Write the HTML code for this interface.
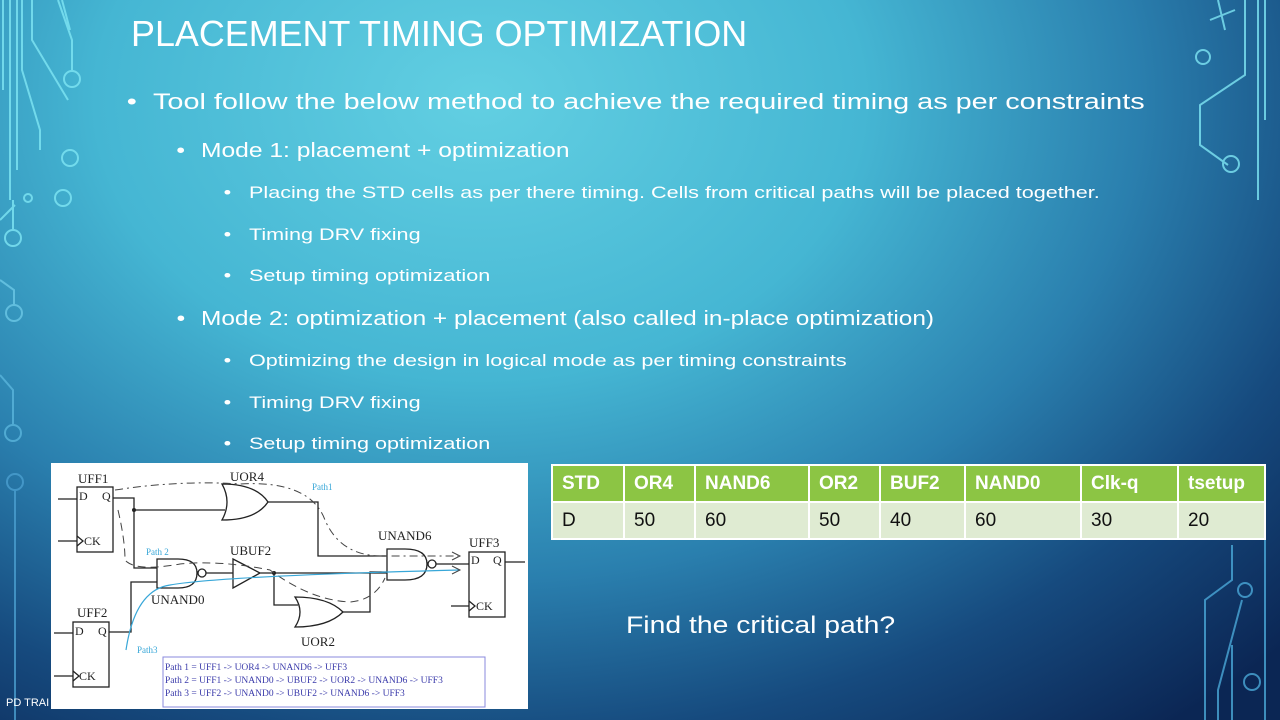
<!DOCTYPE html>
<html><head><meta charset="utf-8"><style>
body{margin:0;width:1280px;height:720px;overflow:hidden;position:relative;font-family:"Liberation Sans",sans-serif;
background:radial-gradient(ellipse 1100px 800px at 480px 100px,#62cfe2 0%,#45b6d3 35%,#2a7fae 60%,#164a7e 80%,#0b2654 100%);}
.t{position:absolute;color:#fff;white-space:nowrap;transform-origin:0 0}
.b:before{content:"•";position:absolute;left:-20px}
table{position:absolute;left:551px;top:464px;border-collapse:collapse;font-size:19px;table-layout:fixed;width:713px}
td{border:2px solid #fff;padding:0 0 0 9px;height:35px;color:#111;overflow:hidden;white-space:nowrap}
tr.h td{background:#8cc544;color:#fff;font-weight:bold}
tr.d td{background:#dfebd2}
</style></head><body>
<svg width="1280" height="720" style="position:absolute;left:0;top:0" fill="none" stroke="#7fe6f4" stroke-width="2">
<g opacity="0.8">
<path d="M3 0V90M10 0V200M17 0V170M22 0V70L40 130L40 150M32 0V40L68 100M58 0L72 40V70M62 0L70 30"/>
<circle cx="72" cy="79" r="8"/><circle cx="70" cy="158" r="8"/><circle cx="63" cy="198" r="8"/><circle cx="28" cy="198" r="4"/><circle cx="13" cy="238" r="8"/>
<path d="M13 200V230M0 220L15 205"/>
<path d="M0 280L14 290V305" stroke="#6cc8e6"/><circle cx="14" cy="313" r="8" stroke="#6cc8e6"/>
<path d="M0 375L13 390V425" stroke="#5ab5dc"/><circle cx="13" cy="433" r="8" stroke="#5ab5dc"/>
<circle cx="15" cy="482" r="8" stroke="#4b9fd0"/><path d="M15 490V720" stroke="#4b9fd0"/>
<path d="M1245 0V75L1200 105L1200 145L1228 165M1258 0V200M1265 0V120M1218 0L1225 30" />
<circle cx="1203" cy="57" r="7"/><circle cx="1231" cy="164" r="8"/>
<path d="M1210 20L1235 10" />
<path d="M1232 545V580L1205 600V720M1218 720L1218 690L1242 600M1232 720V645" stroke="#4aa8d8"/>
<circle cx="1245" cy="590" r="7" stroke="#4aa8d8"/><circle cx="1252" cy="682" r="8" stroke="#4aa8d8"/>
<path d="M1265 720V540" stroke="#4aa8d8"/>
</g>
</svg>
<div class="t" style="left:131px;top:13px;font-size:36px;transform:scaleX(0.997)">PLACEMENT TIMING OPTIMIZATION</div>
<div class="t b" style="left:153px;top:89px;font-size:22px;transform:scaleX(1.31)">Tool follow the below method to achieve the required timing as per constraints</div>
<div class="t b" style="left:201px;top:140px;font-size:20px;transform:scaleX(1.23)">Mode 1: placement + optimization</div>
<div class="t b" style="left:249px;top:183px;font-size:17px;transform:scaleX(1.27)">Placing the STD cells as per there timing. Cells from critical paths will be placed together.</div>
<div class="t b" style="left:249px;top:225px;font-size:17px;transform:scaleX(1.27)">Timing DRV fixing</div>
<div class="t b" style="left:249px;top:266px;font-size:17px;transform:scaleX(1.27)">Setup timing optimization</div>
<div class="t b" style="left:201px;top:308px;font-size:20px;transform:scaleX(1.22)">Mode 2: optimization + placement (also called in-place optimization)</div>
<div class="t b" style="left:249px;top:351px;font-size:17px;transform:scaleX(1.27)">Optimizing the design in logical mode as per timing constraints</div>
<div class="t b" style="left:249px;top:393px;font-size:17px;transform:scaleX(1.27)">Timing DRV fixing</div>
<div class="t b" style="left:249px;top:434px;font-size:17px;transform:scaleX(1.27)">Setup timing optimization</div>
<div class="t" style="left:6px;top:697px;font-size:11px">PD TRAI</div>
<div class="t" style="left:626px;top:612px;font-size:24px;transform:scaleX(1.18)">Find the critical path?</div>
<table>
<colgroup><col style="width:72px"><col style="width:71px"><col style="width:114px"><col style="width:71px"><col style="width:85px"><col style="width:116px"><col style="width:97px"><col style="width:87px"></colgroup>
<tr class="h"><td>STD</td><td>OR4</td><td>NAND6</td><td>OR2</td><td>BUF2</td><td>NAND0</td><td>Clk-q</td><td>tsetup</td></tr>
<tr class="d"><td>D</td><td>50</td><td>60</td><td>50</td><td>40</td><td>60</td><td>30</td><td>20</td></tr>
</table>
<svg width="477" height="246" viewBox="1 3 477 246" style="position:absolute;left:51px;top:463px;background:#fff" font-family="Liberation Serif,serif">
<g stroke="#222" stroke-width="1.3" fill="none">
<rect x="27" y="27" width="36" height="65"/><rect x="23" y="162" width="36" height="65"/><rect x="419" y="92" width="36" height="65"/>
<path d="M8 39H27M8 81H27M27 76L33 81L27 86M4 173H23M4 216H23M23 211L29 216L23 221M401 146H419M419 141L425 146L419 151M455 102H475"/>
<path d="M63 38H84V108H107M84 50H175M59 172H81V122H107"/>
<path d="M172 24Q206 24 218 42Q206 60 172 60Q182 42 172 24Z"/>
<path d="M107 99H128Q147 99 147 113Q147 128 128 128H107Z"/><circle cx="152" cy="113" r="4"/>
<path d="M156 113H183M183 99L210 113L183 128Z M210 113H337"/>
<path d="M218 42H268V96H337M224 113V145H248"/>
<path d="M245 137Q278 137 293 152Q278 167 245 167Q255 152 245 137Z"/>
<path d="M293 152H320V112H337"/>
<path d="M337 89H355Q377 89 377 104Q377 120 355 120H337Z"/><circle cx="382" cy="104" r="4"/><path d="M386 104H419"/>
</g>
<circle cx="84" cy="50" r="2" fill="#222"/><circle cx="224" cy="113" r="2" fill="#222"/>
<g stroke="#444" stroke-width="1" fill="none" stroke-dasharray="8 4 2 4">
<path d="M65 30Q130 20 190 24Q260 20 275 60Q290 95 330 96L408 96"/>
<path d="M68 50Q75 80 75 100Q85 112 130 104Q170 100 220 110Q260 140 300 142Q325 140 335 118" stroke-dasharray="8 5"/>
</g>
<path d="M76 190Q85 130 120 125Q170 116 410 110" stroke="#38a7d8" stroke-width="1.2" fill="none"/>
<path d="M402 92L410 96L402 100M402 106L410 110L402 114" stroke="#444" fill="none"/>
<g font-size="13" fill="#222"><text x="28" y="23">UFF1</text><text x="27" y="157">UFF2</text><text x="419" y="87">UFF3</text>
<text x="180" y="21">UOR4</text><text x="180" y="95">UBUF2</text><text x="328" y="80">UNAND6</text><text x="101" y="144">UNAND0</text><text x="251" y="186">UOR2</text>
<g font-size="12"><text x="29" y="40">D</text><text x="52" y="40">Q</text><text x="34" y="85">CK</text><text x="25" y="175">D</text><text x="48" y="175">Q</text><text x="29" y="220">CK</text><text x="421" y="104">D</text><text x="443" y="104">Q</text><text x="426" y="150">CK</text></g></g>
<g font-size="9" fill="#38a7d8"><text x="262" y="30">Path1</text><text x="96" y="95">Path 2</text><text x="87" y="193">Path3</text></g>
<rect x="113" y="197" width="322" height="50" fill="none" stroke="#8888dd"/>
<g font-size="9.5" fill="#3a3aaa"><text x="115" y="210">Path 1 = UFF1 -&gt; UOR4 -&gt; UNAND6 -&gt; UFF3</text><text x="115" y="223">Path 2 = UFF1 -&gt; UNAND0 -&gt; UBUF2 -&gt; UOR2 -&gt; UNAND6 -&gt; UFF3</text><text x="115" y="236">Path 3 = UFF2 -&gt; UNAND0 -&gt; UBUF2 -&gt; UNAND6 -&gt; UFF3</text></g>
</svg>
</body></html>
